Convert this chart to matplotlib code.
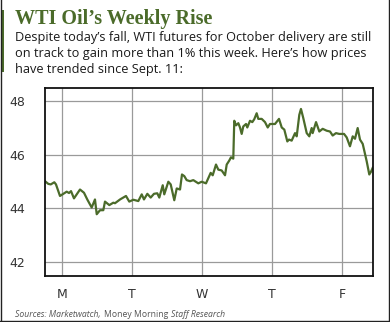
#!/usr/bin/env python3
"""WTI oil weekly price line chart."""

import matplotlib

matplotlib.use("Agg")
import matplotlib.pyplot as plt
from matplotlib.lines import Line2D
from matplotlib.patches import Rectangle

# trading week position (0 = Monday) and price in $/bbl
days = [
    -0.243, -0.196, -0.161, -0.110, -0.086, -0.029, 0.019, 0.067, 0.100, 0.129,
    0.171, 0.257, 0.314, 0.361, 0.424, 0.471, 0.496, 0.543, 0.590, 0.614,
    0.676, 0.733, 0.757, 0.829, 0.914, 0.961, 1.019, 1.090, 1.139, 1.171,
    1.219, 1.267, 1.314, 1.361, 1.390, 1.439, 1.461, 1.519, 1.553, 1.604,
    1.639, 1.686, 1.714, 1.747, 1.781, 1.829, 1.876, 1.947, 1.996, 2.057,
    2.124, 2.153, 2.200, 2.233, 2.281, 2.329, 2.353, 2.390, 2.414, 2.447,
    2.461, 2.486, 2.519, 2.543, 2.567, 2.590, 2.629, 2.647, 2.686, 2.719,
    2.747, 2.781, 2.804, 2.853, 2.900, 2.939, 2.971, 3.043, 3.100, 3.139,
    3.176, 3.219, 3.243, 3.281, 3.329, 3.353, 3.390, 3.414, 3.447, 3.496,
    3.533, 3.567, 3.581, 3.629, 3.676, 3.724, 3.781, 3.829, 3.867, 3.914,
    3.961, 4.029, 4.067, 4.114, 4.153, 4.186, 4.224, 4.257, 4.296, 4.353,
    4.390, 4.414, 4.439,
]
prices = [
    45.01, 44.91, 44.89, 44.97, 44.89, 44.46, 44.54, 44.62, 44.57, 44.64,
    44.37, 44.70, 44.58, 44.33, 44.03, 44.33, 43.78, 43.93, 43.93, 44.25,
    44.12, 44.21, 44.19, 44.33, 44.46, 44.25, 44.32, 44.27, 44.52, 44.33,
    44.54, 44.40, 44.54, 44.56, 44.40, 44.86, 44.52, 44.99, 44.89, 44.30,
    44.74, 44.70, 45.26, 45.20, 45.05, 45.01, 45.05, 44.93, 44.99, 44.93,
    45.32, 45.23, 45.63, 45.44, 45.41, 45.23, 45.63, 45.78, 45.90, 45.85,
    47.26, 47.09, 47.17, 47.01, 46.77, 47.05, 47.14, 47.01, 47.26, 47.21,
    47.32, 47.54, 47.33, 47.33, 47.21, 47.01, 47.14, 47.14, 47.33, 47.01,
    46.93, 46.49, 46.56, 46.52, 46.80, 46.68, 47.48, 47.70, 47.36, 46.80,
    46.68, 46.99, 46.80, 47.21, 46.86, 46.96, 46.89, 46.86, 46.71, 46.80,
    46.77, 46.77, 46.64, 46.31, 46.68, 46.59, 46.99, 46.56, 46.40, 45.75,
    45.26, 45.36, 45.51,
]
day_ticks = [0, 1, 2, 3, 4]
day_labels = ["M", "T", "W", "T", "F"]
price_ticks = [42, 44, 46, 48]

title = "WTI Oil\u2019s Weekly Rise"
subtitle = [
    "Despite today\u2019s fall, WTI futures for October delivery are still",
    "on track to gain more than 1% this week. Here\u2019s how prices",
    "have trended since Sept. 11:",
]
# (text, italic?)
source_parts = [
    ("Sources: Marketwatch,", True),
    ("Money Morning", False),
    ("Staff Research", True),
]

GREEN = "#4b6b2a"
W, H = 390, 322

fig = plt.figure(figsize=(W / 100, H / 100), dpi=100)
fig.patch.set_facecolor("white")

# outer frame and accent bar
for xs, ys in [([0.5, 0.5], [0, H]), ([388.5, 388.5], [0, H]), ([0, W], [320.5, 320.5])]:
    fig.add_artist(Line2D([x / W for x in xs], [1 - y / H for y in ys],
                          color="#222222", lw=1.0, transform=fig.transFigure))
fig.add_artist(Rectangle((1 / W, 1 - 72 / H), 3 / W, 62 / H, color=GREEN,
                         transform=fig.transFigure, lw=0))

fig.text(15 / W, 1 - 24 / H, title, family="Liberation Serif", weight="bold",
         size=14.5, color=GREEN, va="baseline")
for i, line in enumerate(subtitle):
    fig.text(15 / W, 1 - (41 + 16 * i) / H, line, family="Open Sans", size=9.2,
             color="#1a1a1a", va="baseline")

# source line, pieces placed one after another with a word gap
renderer = fig.canvas.get_renderer()
x_px = 15
for text, italic in source_parts:
    t = fig.text(x_px / W, 1 - 317 / H, text, family="Open Sans",
                 style="italic" if italic else "normal", size=6.2,
                 color="#555555", va="baseline")
    x_px += t.get_window_extent(renderer).width + 3

ax = fig.add_axes([45 / W, (H - 276) / H, 328 / W, 188 / H])
ax.plot(days, prices, color=GREEN, lw=1.6, solid_joinstyle="round")
ax.set_xlim(-0.243, 4.443)
ax.set_ylim(41.48, 48.48)
ax.set_xticks(day_ticks)
ax.set_xticklabels(day_labels)
ax.set_yticks(price_ticks)
ax.grid(True, color="#9a9a9a", lw=0.9)
ax.set_axisbelow(True)
ax.tick_params(length=0, labelsize=9, colors="#333333")
ax.tick_params(axis="y", pad=14)
ax.tick_params(axis="x", pad=9)
for lab in ax.get_xticklabels() + ax.get_yticklabels():
    lab.set_family("DejaVu Sans")
for sp in ax.spines.values():
    sp.set_color("#111111")
    sp.set_linewidth(1.3)

fig.savefig("out.png", dpi=100)
